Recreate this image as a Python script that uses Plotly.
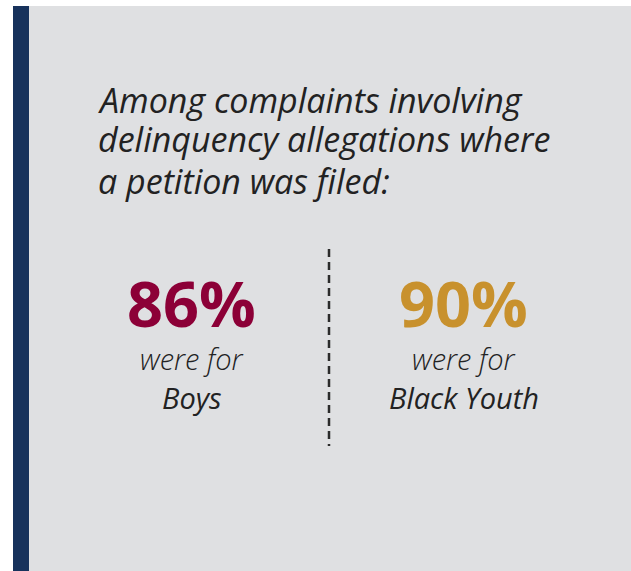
import plotly.graph_objects as go

# Content
title_lines = ["Among complaints involving", "delinquency allegations where", "a petition was filed:"]
groups = ["Boys", "Black Youth"]
shares = [86, 90]
group_colors = ["#8c0037", "#c8912d"]

W, H = 631, 571
BG_PANEL = "#dfe0e2"
NAVY = "#17325c"
TEXT = "#222222"

fig = go.Figure()

shapes = [
    # panel background
    dict(type="rect", x0=13, x1=W, y0=6, y1=H, fillcolor=BG_PANEL, line_width=0, layer="below"),
    # navy accent bar
    dict(type="rect", x0=13, x1=29, y0=6, y1=H, fillcolor=NAVY, line_width=0, layer="below"),
    # dashed divider
    dict(type="line", x0=329, x1=329, y0=249, y1=446,
         line=dict(color="#2b2b2b", width=2.5, dash="8px,5px")),
]

annotations = []
title_y = [100, 139, 181]
for line, y in zip(title_lines, title_y):
    annotations.append(dict(x=96, y=y, text=line, xanchor="left", yanchor="middle", showarrow=False,
                            font=dict(family="Open Sans", size=34, color=TEXT, style="italic", weight=400)))

centers = [191, 463]
for cx, grp, val, col in zip(centers, groups, shares, group_colors):
    annotations.append(dict(x=cx, y=302, text=f"{val}%", xanchor="center", yanchor="middle", showarrow=False,
                            font=dict(family="Open Sans", size=63, color=col, weight=700)))
    annotations.append(dict(x=cx + 0.5, y=358, text="were for", xanchor="center", yanchor="middle", showarrow=False,
                            font=dict(family="Open Sans", size=29, color=TEXT, style="italic", weight=300)))
    annotations.append(dict(x=cx + 0.5, y=397, text=grp, xanchor="center", yanchor="middle", showarrow=False,
                            font=dict(family="Open Sans", size=29, color=TEXT, style="italic", weight=400)))

fig.update_layout(
    width=W, height=H,
    margin=dict(l=0, r=0, t=0, b=0),
    paper_bgcolor="white", plot_bgcolor="white",
    xaxis=dict(range=[0, W], visible=False, fixedrange=True),
    yaxis=dict(range=[H, 0], visible=False, fixedrange=True),
    shapes=shapes,
    annotations=annotations,
    showlegend=False,
)

fig.write_html("out.html", config=dict(displayModeBar=False))
